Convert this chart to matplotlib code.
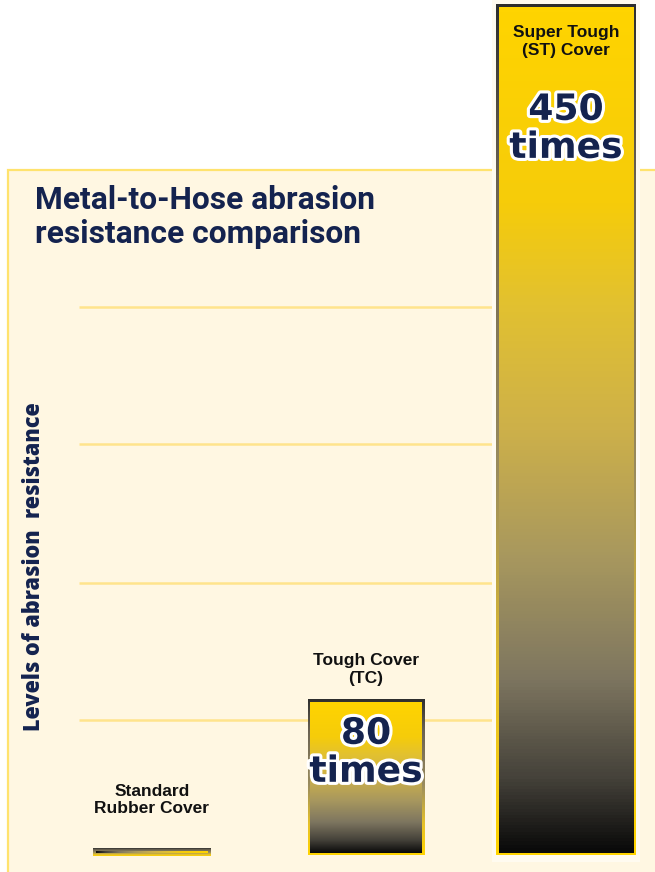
import numpy as np
import matplotlib
matplotlib.use("Agg")
import matplotlib.pyplot as plt
from matplotlib.colors import LinearSegmentedColormap
from matplotlib.patches import Rectangle
import matplotlib.patheffects as pe

# ---------------- data ----------------
categories = ["Standard\nRubber Cover", "Tough Cover\n(TC)", "Super Tough\n(ST) Cover"]
values = [1, 80, 450]
value_labels = ["", "80\ntimes", "450\ntimes"]
grid_levels = [71, 144, 218, 291]
title = "Metal-to-Hose abrasion\nresistance comparison"
ylabel = "Levels of abrasion  resistance"

# ---------------- style ----------------
W, H = 655, 872
NAVY = "#14234f"
PANEL = "#fff7e2"
PANEL_EDGE = "#ffe36e"
GRID = "#ffe48c"
HALO = "#fffbf0"

fill_cmap = LinearSegmentedColormap.from_list("fill", [
    (0.00, "#0a0a0a"), (0.086, "#45423a"), (0.205, "#7e7660"), (0.35, "#a8985e"),
    (0.50, "#cdb04a"), (0.65, "#e2c130"), (0.77, "#f6cc0a"), (1.00, "#ffd400")])
edge_cmap = LinearSegmentedColormap.from_list("edge", [
    (0.00, "#ffd400"), (0.20, "#e6c12a"), (0.45, "#9a8c5e"), (0.80, "#6a6252"), (1.00, "#2e2e2e")])

fig = plt.figure(figsize=(W / 100, H / 100), dpi=100)
fig.patch.set_facecolor("white")

panel = Rectangle((8 / W, -0.05), 1.0, (H - 170) / H + 0.05, transform=fig.transFigure,
                  facecolor=PANEL, edgecolor=PANEL_EDGE, lw=1.6, zorder=-2)
fig.add_artist(panel)

# axes in pixel layout
ax_l, ax_r, ax_b, ax_t = 79, 655, 19, 864
ax = fig.add_axes([ax_l / W, ax_b / H, (ax_r - ax_l) / W, (ax_t - ax_b) / H])
ax.set_facecolor("none")
ax.axis("off")

sx = 207.0                       # px per x unit
x0 = (ax_l - 152) / sx
xlim = (x0, x0 + (ax_r - ax_l) / sx)
ylim = (0, 450)
sy = (ax_t - ax_b) / (ylim[1] - ylim[0])

xpos = np.arange(len(values)) + np.array([0.0, 0.034, 0.0])
widths = [0.541, 0.541, 0.652]


def gradient_bar(x, w, h, horizontal=False, pad_px=2.5, z=4):
    px = pad_px / sx
    py = pad_px / sy
    g = np.linspace(0, 1, 256).reshape(-1, 1)
    im = ax.imshow(g, cmap=edge_cmap, origin="lower", aspect="auto", interpolation="bilinear",
                   extent=(x - w / 2 - px, x + w / 2 + px, -py, h + py), zorder=z)
    im.set_clip_on(False)
    gi = np.linspace(0, 1, 256).reshape(1, -1) if horizontal else g
    im2 = ax.imshow(gi, cmap=fill_cmap, origin="lower", aspect="auto", interpolation="bilinear",
                    extent=(x - w / 2, x + w / 2, 0, h), zorder=z + 1)
    im2.set_clip_on(False)


# halo behind the tallest bar
st = int(np.argmax(values))
hpx = 7 / sx
halo = Rectangle((xpos[st] - widths[st] / 2 - hpx, -9 / sy), widths[st] + 2 * hpx,
                 values[st] + 30, facecolor=HALO, edgecolor="none", zorder=2, clip_on=False)
ax.add_patch(halo)

# gridlines
ax.hlines(grid_levels, xlim[0], xpos[st] - widths[st] / 2, color=GRID, lw=1.8, zorder=1)

for i, (x, w, v) in enumerate(zip(xpos, widths, values)):
    gradient_bar(x, w, v, horizontal=(i == 0), pad_px=(3.0 if i == 0 else 2.5))

ax.set_xlim(*xlim)
ax.set_ylim(*ylim)

label_kw = dict(ha="center", va="center", fontsize=12.5, fontweight="bold", color="#111111",
                family="Liberation Sans", linespacing=1.2, textcoords="offset points", zorder=10,
                annotation_clip=False)
big_kw = dict(ha="center", va="center", fontsize=26, fontweight="bold", color=NAVY,
              family="DejaVu Sans", linespacing=1.15, textcoords="offset points", zorder=10,
              annotation_clip=False,
              path_effects=[pe.withStroke(linewidth=4.5, foreground="white")])

# category labels
ax.annotate(categories[0], xy=(xpos[0], values[0]), xytext=(0, 37), **label_kw)
ax.annotate(categories[1], xy=(xpos[1], values[1]), xytext=(0, 24), **label_kw)
ax.annotate(categories[2], xy=(xpos[2], values[2]), xytext=(0, -24), **label_kw)

# value labels
ax.annotate(value_labels[1], xy=(xpos[1], values[1]), xytext=(0, -36), **big_kw)
ax.annotate(value_labels[2], xy=(xpos[2], values[2]), xytext=(0, -87), **big_kw)

fig.text(35 / W, 1 - 185 / H, title, ha="left", va="top", fontsize=22.9, fontweight="bold",
         color=NAVY, family="Roboto", linespacing=1.17)
fig.text(34 / W, 1 - 567 / H, ylabel, rotation=90, ha="center", va="center", fontsize=15.6,
         fontweight="heavy", color=NAVY, family="Open Sans")

fig.savefig("out.png", dpi=100, facecolor=fig.get_facecolor())
